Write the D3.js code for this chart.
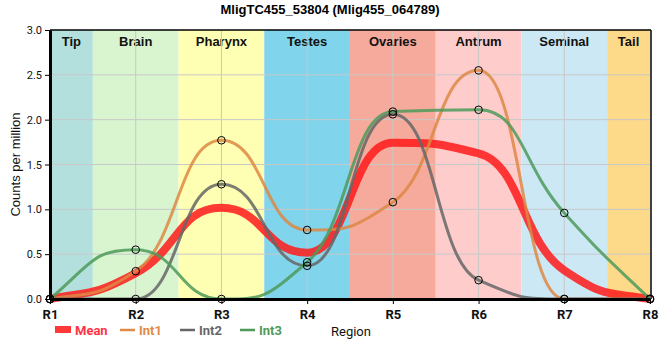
<!DOCTYPE html>
<html><head><meta charset="utf-8">
<script src="https://cdn.jsdelivr.net/npm/d3@7"></script>
<style>body{margin:0;background:#fff;font-family:"Liberation Sans",Arial,sans-serif}</style>
</head><body>
<svg id="c" width="660" height="360"></svg>
<script>
const positions = ["R1","R2","R3","R4","R5","R6","R7","R8"];
const regions = ["Tip","Brain","Pharynx","Testes","Ovaries","Antrum","Seminal","Tail"];
const regionColors = ["#b3e0dc","#d8f5d0","#ffffb3","#80d4ec","#f5aa9c","#ffcccc","#cce8f4","#fdd98a"];
const int1 = [0, 0.31, 1.77, 0.77, 1.08, 2.55, 0, 0];
const int2 = [0, 0, 1.28, 0.37, 2.06, 0.21, 0, 0];
const int3 = [0, 0.55, 0, 0.41, 2.09, 2.11, 0.96, 0];
const yTicks = [0,0.5,1.0,1.5,2.0,2.5,3.0];
const mean = int1.map((v,i)=>(v+int2[i]+int3[i])/3);

// monotone Hermite curve with longer tangent handles (sharper transitions, wider plateaus)
function curveSharpMonotone(context){
  let pts=[];
  return {
    areaStart(){}, areaEnd(){},
    lineStart(){pts=[];},
    point(x,y){pts.push([+x,+y]);},
    lineEnd(){
      const n=pts.length; if(!n) return;
      const sign=v=>v<0?-1:1;
      const t=new Array(n).fill(0);
      for(let i=1;i<n-1;i++){
        const [x0,y0]=pts[i-1],[x1,y1]=pts[i],[x2,y2]=pts[i+1];
        const h0=x1-x0,h1=x2-x1,s0=(y1-y0)/h0,s1=(y2-y1)/h1,p=(s0*h1+s1*h0)/(h0+h1);
        t[i]=(sign(s0)+sign(s1))*Math.min(Math.abs(s0),Math.abs(s1),0.5*Math.abs(p))||0;
      }
      if(n>1){
        const h=pts[1][0]-pts[0][0]; t[0]=(3*(pts[1][1]-pts[0][1])/h - t[1])/2;
        const hn=pts[n-1][0]-pts[n-2][0]; t[n-1]=(3*(pts[n-1][1]-pts[n-2][1])/hn - t[n-2])/2;
      }
      const k=0.5;
      context.moveTo(pts[0][0],pts[0][1]);
      for(let i=0;i<n-1;i++){
        const [x0,y0]=pts[i],[x1,y1]=pts[i+1],dx=x1-x0;
        context.bezierCurveTo(x0+dx*k,y0+dx*k*t[i],x1-dx*k,y1-dx*k*t[i+1],x1,y1);
      }
    }
  };
}

const svg = d3.select("#c");
const L=50,R=650,T=30,B=299;
const x = d3.scalePoint().domain(positions).range([L,R]);
const y = d3.scaleLinear().domain([0,3]).range([B,T]);
const step = x.step();

const g = svg.append("g");
regions.forEach((r,i)=>{
  const cx = x(positions[i]);
  const x0 = Math.max(L, cx-step/2), x1 = Math.min(R, cx+step/2);
  g.append("rect").attr("x",x0).attr("y",T).attr("width",x1-x0).attr("height",B-T).attr("fill",regionColors[i]);
  g.append("text").attr("x",(x0+x1)/2).attr("y",T+16).attr("text-anchor","middle")
   .attr("font-size",13).attr("font-weight","bold").attr("fill","#111").text(r);
});
yTicks.forEach(t=>{ if(t>0 && t<3) svg.append("line").attr("x1",L).attr("x2",R).attr("y1",y(t)).attr("y2",y(t)).attr("stroke","#c8c8c8").attr("stroke-width",1);});
positions.forEach((p,i)=>{ if(i>0&&i<positions.length-1) svg.append("line").attr("x1",x(p)).attr("x2",x(p)).attr("y1",T).attr("y2",B).attr("stroke","#c8c8c8").attr("stroke-width",1);});

svg.append("line").attr("x1",L).attr("x2",R+1).attr("y1",T).attr("y2",T).attr("stroke","#000").attr("stroke-width",1.5);
svg.append("line").attr("x1",R+1).attr("x2",R+1).attr("y1",T).attr("y2",B).attr("stroke","#000").attr("stroke-width",1.5);

const line = d3.line().x((d,i)=>x(positions[i])).y(d=>y(d)).curve(curveSharpMonotone);
const series = [
  {v:int1,c:"#dd8844",w:3,o:0.85},
  {v:int2,c:"#666666",w:3,o:0.85},
  {v:int3,c:"#4e9a5a",w:3,o:0.85},
];
svg.append("path").attr("d",line(mean)).attr("fill","none").attr("stroke","#ff1a1a").attr("stroke-width",8).attr("opacity",0.85);
series.forEach(s=>{
  svg.append("path").attr("d",line(s.v)).attr("fill","none").attr("stroke",s.c).attr("stroke-width",s.w).attr("opacity",s.o);
});
series.forEach(s=>{
  s.v.forEach((d,i)=>{
    svg.append("circle").attr("cx",x(positions[i])).attr("cy",y(d)).attr("r",3.8).attr("fill","none").attr("stroke","#000").attr("stroke-width",1);
  });
});

const xa = svg.append("g").attr("transform",`translate(0,${B})`).call(d3.axisBottom(x).tickSize(5).tickSizeOuter(0));
xa.select(".domain").attr("stroke-width",3);
xa.selectAll("text").attr("font-size",13).attr("font-weight","bold").attr("fill","#111").attr("dy","0.9em").attr("font-family","Roboto, sans-serif");
const ya = svg.append("g").attr("transform",`translate(${L},0)`).call(d3.axisLeft(y).tickValues(yTicks).tickFormat(d3.format(".1f")).tickSize(5).tickSizeOuter(0));
ya.select(".domain").attr("stroke-width",3);
ya.selectAll("text").attr("font-size",11).attr("fill","#111").attr("font-family","Roboto, sans-serif");

svg.append("text").attr("transform",`translate(20,${(T+B)/2}) rotate(-90)`).attr("text-anchor","middle")
  .attr("font-size",13).attr("fill","#111").text("Counts per million");
svg.append("text").attr("x",330).attr("y",14).attr("text-anchor","middle").attr("font-size",13).attr("font-weight","bold").text("MligTC455_53804 (Mlig455_064789)");

const ly = 330;
svg.append("rect").attr("x",55).attr("y",ly-4).attr("width",16).attr("height",7).attr("fill","#ff2222").attr("opacity",0.9);
svg.append("text").attr("x",75).attr("y",ly+5).attr("font-size",13).attr("font-weight","bold").attr("fill","#ff3344").attr("font-family","Roboto, sans-serif").text("Mean");
const leg = [{n:"Int1",c:"#e08a45",x:120},{n:"Int2",c:"#666",x:180},{n:"Int3",c:"#4e9a5a",x:240}];
leg.forEach(l=>{
  svg.append("line").attr("x1",l.x).attr("x2",l.x+15).attr("y1",ly).attr("y2",ly).attr("stroke",l.c).attr("stroke-width",2.5);
  svg.append("text").attr("x",l.x+19).attr("y",ly+5).attr("font-size",13).attr("font-weight","bold").attr("fill",l.c).attr("font-family","Roboto, sans-serif").text(l.n);
});
svg.append("text").attr("x",331).attr("y",ly+6).attr("font-size",13).attr("fill","#111").attr("font-family","Roboto, sans-serif").text("Region");
</script>
</body></html>
